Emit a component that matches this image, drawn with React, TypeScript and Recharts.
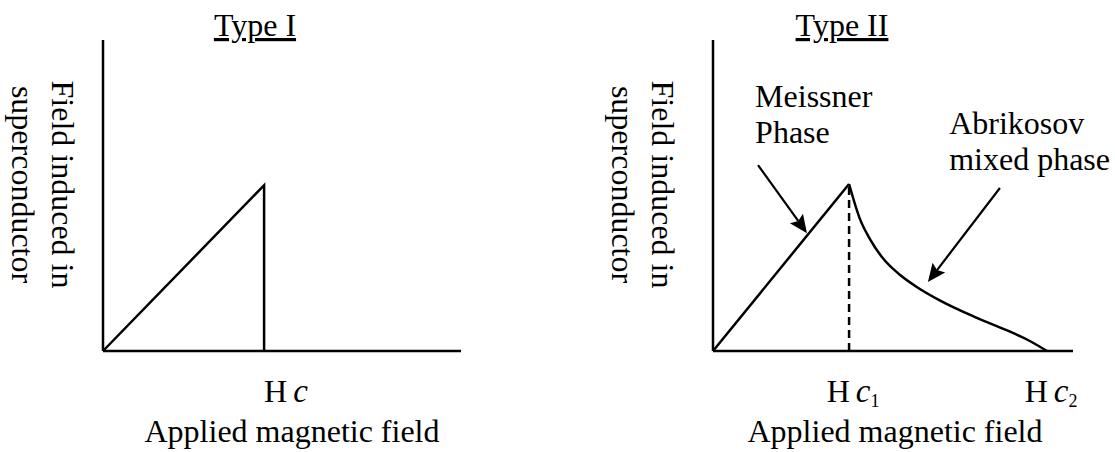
import React from 'react';
import { LineChart, Line, XAxis, YAxis, ReferenceLine, ReferenceDot } from 'recharts';

// ---- data ----
const typeITitle = 'Type I';
const typeIITitle = 'Type II';
const xAxisTitle = 'Applied magnetic field';
const yAxisLines = ['Field induced in', 'superconductor'];

// Type I: linear rise to Hc, then abrupt drop
const typeIData = [
  { h: 0, b: 0 },
  { h: 45, b: 53.3 },
  { h: 45, b: 0 },
];
const typeITicks = [45];
const typeITickLabels: Record<number, { main: string; sub: string }> = {
  45: { main: 'c', sub: '' },
};

// Type II: Meissner linear rise to Hc1, Abrikosov decay to Hc2
const hc1 = 37.8;
const hc2 = 92.8;
const meissnerData = [
  { h: 0, b: 0 },
  { h: hc1, b: 53.7 },
];
const abrikosovData = [
  { h: hc1, b: 53.7 },
  { h: 40.8, b: 42.5 },
  { h: 43.6, b: 36.0 },
  { h: 47.2, b: 29.8 },
  { h: 51.9, b: 24.5 },
  { h: 56.7, b: 20.5 },
  { h: 63.1, b: 16.2 },
  { h: 72.2, b: 11.2 },
  { h: 81.7, b: 6.6 },
  { h: 87.2, b: 3.7 },
  { h: hc2, b: 0 },
];
const typeIITicks = [hc1, hc2];
const typeIITickLabels: Record<number, { main: string; sub: string }> = {
  [hc1]: { main: 'c', sub: '1' },
  [hc2]: { main: 'c', sub: '2' },
};

const annotations = [
  { x: 11.7, y: 78.5, lines: ['Meissner', 'Phase'] },
  { x: 65.6, y: 69.8, lines: ['Abrikosov', 'mixed phase'] },
];
const arrows = [
  { from: { x: 12.5, y: 59.8 }, to: { x: 26.1, y: 37.9 } },
  { from: { x: 79.7, y: 52.4 }, to: { x: 59.7, y: 22.2 } },
];

// ---- styles ----
const FONT = '"Liberation Serif", "Times New Roman", serif';
const FS = 32;
const INK = '#000';
const SW = 2.5;

const Arrow = (props: any) => {
  const { x1, y1, x2, y2 } = props;
  const dx = x2 - x1;
  const dy = y2 - y1;
  const len = Math.sqrt(dx * dx + dy * dy) || 1;
  const ux = dx / len;
  const uy = dy / len;
  const headL = 18;
  const headW = 8;
  const bx = x2 - ux * headL;
  const by = y2 - uy * headL;
  const px = -uy;
  const py = ux;
  return (
    <g>
      <line x1={x1} y1={y1} x2={bx + ux * 3} y2={by + uy * 3} stroke={INK} strokeWidth={2.2} />
      <polygon
        points={`${x2},${y2} ${bx + px * headW},${by + py * headW} ${bx + ux * 3},${by + uy * 3} ${bx - px * headW},${by - py * headW}`}
        fill={INK}
      />
    </g>
  );
};

const makeTick = (labels: Record<number, { main: string; sub: string }>, anchor: 'start' | 'middle', dx: number) =>
  (props: any) => {
    const { x, y, payload } = props;
    const lab = labels[payload.value] || { main: 'c', sub: '' };
    return (
      <text
        x={x + dx}
        y={y + 43}
        textAnchor={anchor}
        fontFamily={FONT}
        fontSize={FS}
        fill={INK}
      >
        <tspan>H</tspan>
        <tspan dx={6} fontStyle="italic" fontSize={33}>{lab.main}</tspan>
        {lab.sub ? <tspan dy={5} fontSize={18}>{lab.sub}</tspan> : null}
      </text>
    );
  };

const makeYLabel = (b1: number, b2: number, dyc: number) => (props: any) => {
  const vb = props.viewBox || { x: 0, y: 0, width: 0, height: 0 };
  const cy = vb.y + vb.height / 2 + dyc;
  const xs = [vb.x + b1, vb.x + b2];
  return (
    <g>
      {yAxisLines.map((t, i) => (
        <text
          key={i}
          x={xs[i]}
          y={cy}
          transform={`rotate(90 ${xs[i]} ${cy})`}
          textAnchor="middle"
          fontFamily={FONT}
          fontSize={FS}
          fill={INK}
        >
          {t}
        </text>
      ))}
    </g>
  );
};

const makeXLabel = (dx: number) => (props: any) => {
  const vb = props.viewBox || { x: 0, y: 0, width: 0, height: 0 };
  return (
    <text
      x={vb.x + vb.width / 2 + dx}
      y={vb.y + 91}
      textAnchor="middle"
      fontFamily={FONT}
      fontSize={FS}
      fill={INK}
    >
      {xAxisTitle}
    </text>
  );
};

const makeTitle = (title: string, dx: number) => (props: any) => {
  const vb = props.viewBox || { x: 0, y: 0, width: 0, height: 0 };
  return (
    <text
      x={vb.x + vb.width / 2 + dx}
      y={vb.y + 36}
      textAnchor="middle"
      fontFamily={FONT}
      fontSize={FS}
      fill={INK}
      style={{ textDecoration: 'underline' }}
    >
      {title}
    </text>
  );
};

const AnnotationText = (lines: string[]) => (props: any) => {
  const { cx, cy } = props;
  return (
    <text x={cx} y={cy} fontFamily={FONT} fontSize={FS} fill={INK} textAnchor="start">
      {lines.map((l, i) => (
        <tspan key={i} x={cx} dy={i === 0 ? 0 : 36}>
          {l}
        </tspan>
      ))}
    </text>
  );
};

const axisLine = { stroke: INK, strokeWidth: SW };

export default function App() {
  return (
    <div style={{ position: 'absolute', left: 0, top: 0, width: 1115, height: 452, background: '#fff' }}>
      <div style={{ position: 'absolute', left: 0, top: 0 }}>
        <LineChart width={560} height={452} margin={{ top: 0, right: 99, bottom: 0, left: 0 }}>
          <XAxis
            xAxisId="top"
            orientation="top"
            type="number"
            domain={[0, 100]}
            height={40}
            axisLine={false}
            tick={false}
            tickLine={false}
            label={{ content: makeTitle(typeITitle, -27) }}
          />
          <XAxis
            dataKey="h"
            type="number"
            domain={[0, 100]}
            ticks={typeITicks}
            height={101}
            axisLine={axisLine}
            tickLine={false}
            tick={makeTick(typeITickLabels, 'start', 0)}
            label={{ content: makeXLabel(10) }}
          />
          <YAxis
            type="number"
            domain={[0, 100]}
            width={103}
            axisLine={axisLine}
            tick={false}
            tickLine={false}
            label={{ content: makeYLabel(52, 12, -11) }}
          />
          <Line
            data={typeIData}
            dataKey="b"
            type="linear"
            stroke={INK}
            strokeWidth={SW}
            dot={false}
            activeDot={false}
            isAnimationActive={false}
          />
        </LineChart>
      </div>
      <div style={{ position: 'absolute', left: 560, top: 0 }}>
        <LineChart width={555} height={452} margin={{ top: 0, right: 42, bottom: 0, left: 0 }}>
          <XAxis
            xAxisId="top"
            orientation="top"
            type="number"
            domain={[0, 100]}
            height={40}
            axisLine={false}
            tick={false}
            tickLine={false}
            label={{ content: makeTitle(typeIITitle, -51) }}
          />
          <XAxis
            dataKey="h"
            type="number"
            domain={[0, 100]}
            ticks={typeIITicks}
            height={101}
            axisLine={axisLine}
            tickLine={false}
            tick={makeTick(typeIITickLabels, 'middle', 4)}
            label={{ content: makeXLabel(2) }}
          />
          <YAxis
            type="number"
            domain={[0, 100]}
            width={153}
            axisLine={axisLine}
            tick={false}
            tickLine={false}
            label={{ content: makeYLabel(92, 52, -11) }}
          />
          <ReferenceLine
            segment={[{ x: hc1, y: 0 }, { x: hc1, y: 53.7 }]}
            stroke={INK}
            strokeWidth={SW}
            strokeDasharray="8 5"
          />
          <Line
            data={meissnerData}
            dataKey="b"
            type="linear"
            stroke={INK}
            strokeWidth={SW}
            dot={false}
            activeDot={false}
            isAnimationActive={false}
          />
          <Line
            data={abrikosovData}
            dataKey="b"
            type="monotone"
            stroke={INK}
            strokeWidth={SW}
            dot={false}
            activeDot={false}
            isAnimationActive={false}
          />
          {arrows.map((a, i) => (
            <ReferenceLine key={`a${i}`} segment={[a.from, a.to]} shape={Arrow} />
          ))}
          {annotations.map((a, i) => (
            <ReferenceDot key={`t${i}`} x={a.x} y={a.y} r={0} shape={AnnotationText(a.lines)} />
          ))}
        </LineChart>
      </div>
    </div>
  );
}
